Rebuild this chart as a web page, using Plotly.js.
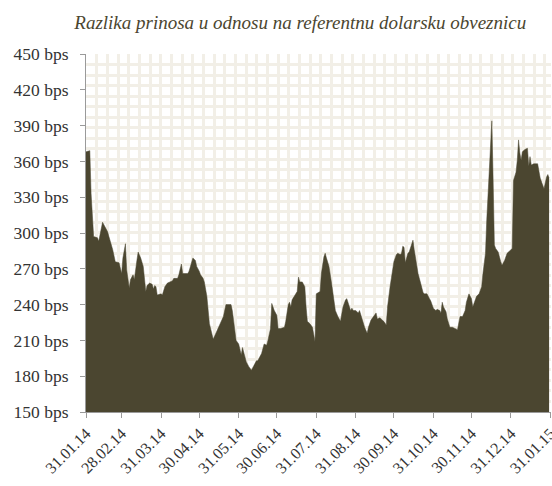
<!DOCTYPE html>
<html>
<head>
<meta charset="utf-8">
<script src="https://cdn.plot.ly/plotly-3.0.1.min.js"></script>
<style>html,body{margin:0;padding:0;background:#fff}#chart{width:552px;height:486px}</style>
</head>
<body>
<div id="chart"></div>
<script>
// Spread dates (dd.mm.yy source, ISO here)
var dates = [
"2014-01-31","2014-02-03","2014-02-04","2014-02-05","2014-02-06","2014-02-09","2014-02-10","2014-02-13","2014-02-15","2014-02-17",
"2014-02-18","2014-02-21","2014-02-23","2014-02-25","2014-02-26","2014-02-28","2014-03-01","2014-03-03","2014-03-04","2014-03-06",
"2014-03-07","2014-03-09","2014-03-10","2014-03-12","2014-03-13","2014-03-15","2014-03-17","2014-03-19","2014-03-20","2014-03-22",
"2014-03-24","2014-03-25","2014-03-26","2014-03-27","2014-03-28","2014-03-31","2014-04-01","2014-04-03","2014-04-05","2014-04-07",
"2014-04-09","2014-04-10","2014-04-13","2014-04-14","2014-04-16","2014-04-17","2014-04-19","2014-04-21","2014-04-22","2014-04-23",
"2014-04-25","2014-04-27","2014-04-28","2014-04-30","2014-05-01","2014-05-03","2014-05-04","2014-05-06","2014-05-08","2014-05-11",
"2014-05-13","2014-05-16","2014-05-19","2014-05-21","2014-05-25","2014-05-26","2014-05-28","2014-05-29","2014-05-31","2014-06-02",
"2014-06-03","2014-06-05","2014-06-06","2014-06-08","2014-06-10","2014-06-12","2014-06-14","2014-06-15","2014-06-16","2014-06-18",
"2014-06-20","2014-06-22","2014-06-23","2014-06-25","2014-06-26","2014-06-28","2014-06-30","2014-07-01","2014-07-03","2014-07-06",
"2014-07-07","2014-07-09","2014-07-10","2014-07-11","2014-07-12","2014-07-14","2014-07-16","2014-07-17","2014-07-18","2014-07-20",
"2014-07-22","2014-07-23","2014-07-24","2014-07-26","2014-07-28","2014-07-30","2014-07-31","2014-08-03","2014-08-04","2014-08-06",
"2014-08-07","2014-08-08","2014-08-10","2014-08-12","2014-08-14","2014-08-15","2014-08-17","2014-08-19","2014-08-21","2014-08-23",
"2014-08-24","2014-08-25","2014-08-27","2014-08-28","2014-08-29","2014-08-31","2014-09-02","2014-09-03","2014-09-05","2014-09-07",
"2014-09-09","2014-09-10","2014-09-12","2014-09-14","2014-09-16","2014-09-17","2014-09-19","2014-09-20","2014-09-22","2014-09-24",
"2014-09-25","2014-09-27","2014-09-29","2014-09-30","2014-10-02","2014-10-03","2014-10-05","2014-10-06","2014-10-07","2014-10-08",
"2014-10-09","2014-10-11","2014-10-12","2014-10-14","2014-10-15","2014-10-16","2014-10-18","2014-10-19","2014-10-21","2014-10-23",
"2014-10-24","2014-10-26","2014-10-28","2014-10-29","2014-10-31","2014-11-02","2014-11-03","2014-11-05","2014-11-06","2014-11-07",
"2014-11-08","2014-11-10","2014-11-11","2014-11-13","2014-11-15","2014-11-17","2014-11-19","2014-11-21","2014-11-23","2014-11-25",
"2014-11-26","2014-11-28","2014-11-30","2014-12-01","2014-12-03","2014-12-04","2014-12-06","2014-12-08","2014-12-09","2014-12-11",
"2014-12-12","2014-12-13","2014-12-14","2014-12-15","2014-12-16","2014-12-17","2014-12-18","2014-12-19","2014-12-21","2014-12-23",
"2014-12-24","2014-12-26","2014-12-28","2014-12-31","2015-01-01","2015-01-02","2015-01-04","2015-01-05","2015-01-06","2015-01-07",
"2015-01-08","2015-01-09","2015-01-11","2015-01-13","2015-01-14","2015-01-15","2015-01-16","2015-01-18","2015-01-20","2015-01-21",
"2015-01-23","2015-01-25","2015-01-26","2015-01-28","2015-01-29","2015-01-30"
];
// Spread in basis points
var spreadBps = [
368,369,333,311,297,296,293,309,305,301,
297,286,276,275,275,266,279,291,269,254,
261,265,261,277,284,279,272,251,256,258,
257,253,256,255,248,249,248,255,258,259,
260,262,262,265,274,266,266,266,268,272,
279,277,272,268,265,262,259,247,224,211,
216,224,230,240,240,235,219,210,207,198,
204,195,192,188,185,189,193,193,195,199,
207,206,210,220,241,235,231,220,220,221,
226,240,242,238,244,248,251,263,259,259,
255,238,226,224,221,209,249,251,266,280,
283,279,272,258,244,235,230,226,238,244,
245,242,235,237,235,235,233,235,227,221,
216,221,227,230,233,228,229,228,226,223,
238,255,269,276,282,283,282,283,289,288,
275,283,284,290,294,286,272,266,258,250,
249,249,245,243,237,235,236,235,233,242,
238,234,228,221,221,220,219,230,230,235,
242,249,245,238,245,247,249,255,266,283,
311,335,355,375,394,345,290,287,284,276,
273,277,283,286,287,344,351,361,378,367,
361,368,370,371,356,364,357,358,358,358,
346,340,337,347,349,346
];
var tickDates = ["2014-01-31","2014-02-28","2014-03-31","2014-04-30","2014-05-31","2014-06-30","2014-07-31","2014-08-31","2014-09-30","2014-10-31","2014-11-30","2014-12-31","2015-01-31"];
var tickLabels = ["31.01.14","28.02.14","31.03.14","30.04.14","31.05.14","30.06.14","31.07.14","31.08.14","30.09.14","31.10.14","30.11.14","31.12.14","31.01.15"];
var titleText = "Razlika prinosa u odnosu na referentnu dolarsku obveznicu";

var fillColor = "#4b4630";
var serif = "Liberation Serif, Times New Roman, serif";

var traces = [
  {x: dates, y: spreadBps, type: "scatter", mode: "lines", fill: "tozeroy",
   fillcolor: fillColor, line: {color: fillColor, width: 0.5}, hoverinfo: "skip", showlegend: false},
  {x: [], y: [], xaxis: "x2", yaxis: "y2", type: "scatter", mode: "lines", showlegend: false, hoverinfo: "skip"}
];

var layout = {
  width: 552, height: 486,
  margin: {l: 86, r: 1, t: 54, b: 74},
  paper_bgcolor: "#ffffff", plot_bgcolor: "#ffffff",
  showlegend: false,
  title: {text: titleText, xref: "container", x: 0.544, xanchor: "center", yref: "container", y: 0.955, yanchor: "middle",
          font: {family: serif, size: 19, style: "italic", color: "#4b4630"}},
  xaxis: {type: "date", range: ["2014-01-31", "2015-01-31 12:00"], tickvals: tickDates, ticktext: tickLabels,
          tickangle: -45, showgrid: false, zeroline: false, showline: true, linecolor: "#9a9a9a", linewidth: 1,
          ticklabeloverflow: "allow",
          ticks: "outside", ticklen: 5, tickcolor: "#9a9a9a", tickfont: {family: serif, size: 16, color: "#333333"}},
  yaxis: {range: [150, 450], tick0: 150, dtick: 30, ticksuffix: " bps", showgrid: false, zeroline: false,
          showline: true, linecolor: "#9a9a9a", linewidth: 1, ticks: "outside", ticklen: 5, tickcolor: "#9a9a9a",
          ticklabelstandoff: 8, tickfont: {family: serif, size: 17.5, color: "#333333"}},
  xaxis2: {overlaying: "x", anchor: "y2", range: [0, 1], tick0: 0, dtick: 0.02295, showgrid: true,
           gridcolor: "#f2efe7", gridwidth: 3, showticklabels: false, ticks: "", zeroline: false, showline: false},
  yaxis2: {overlaying: "y", anchor: "x2", range: [1, 0], tick0: 0, dtick: 0.0294, showgrid: true,
           gridcolor: "#f2efe7", gridwidth: 3, showticklabels: false, ticks: "", zeroline: false, showline: false}
};

Plotly.newPlot("chart", traces, layout, {staticPlot: true, displayModeBar: false});
</script>
</body>
</html>
